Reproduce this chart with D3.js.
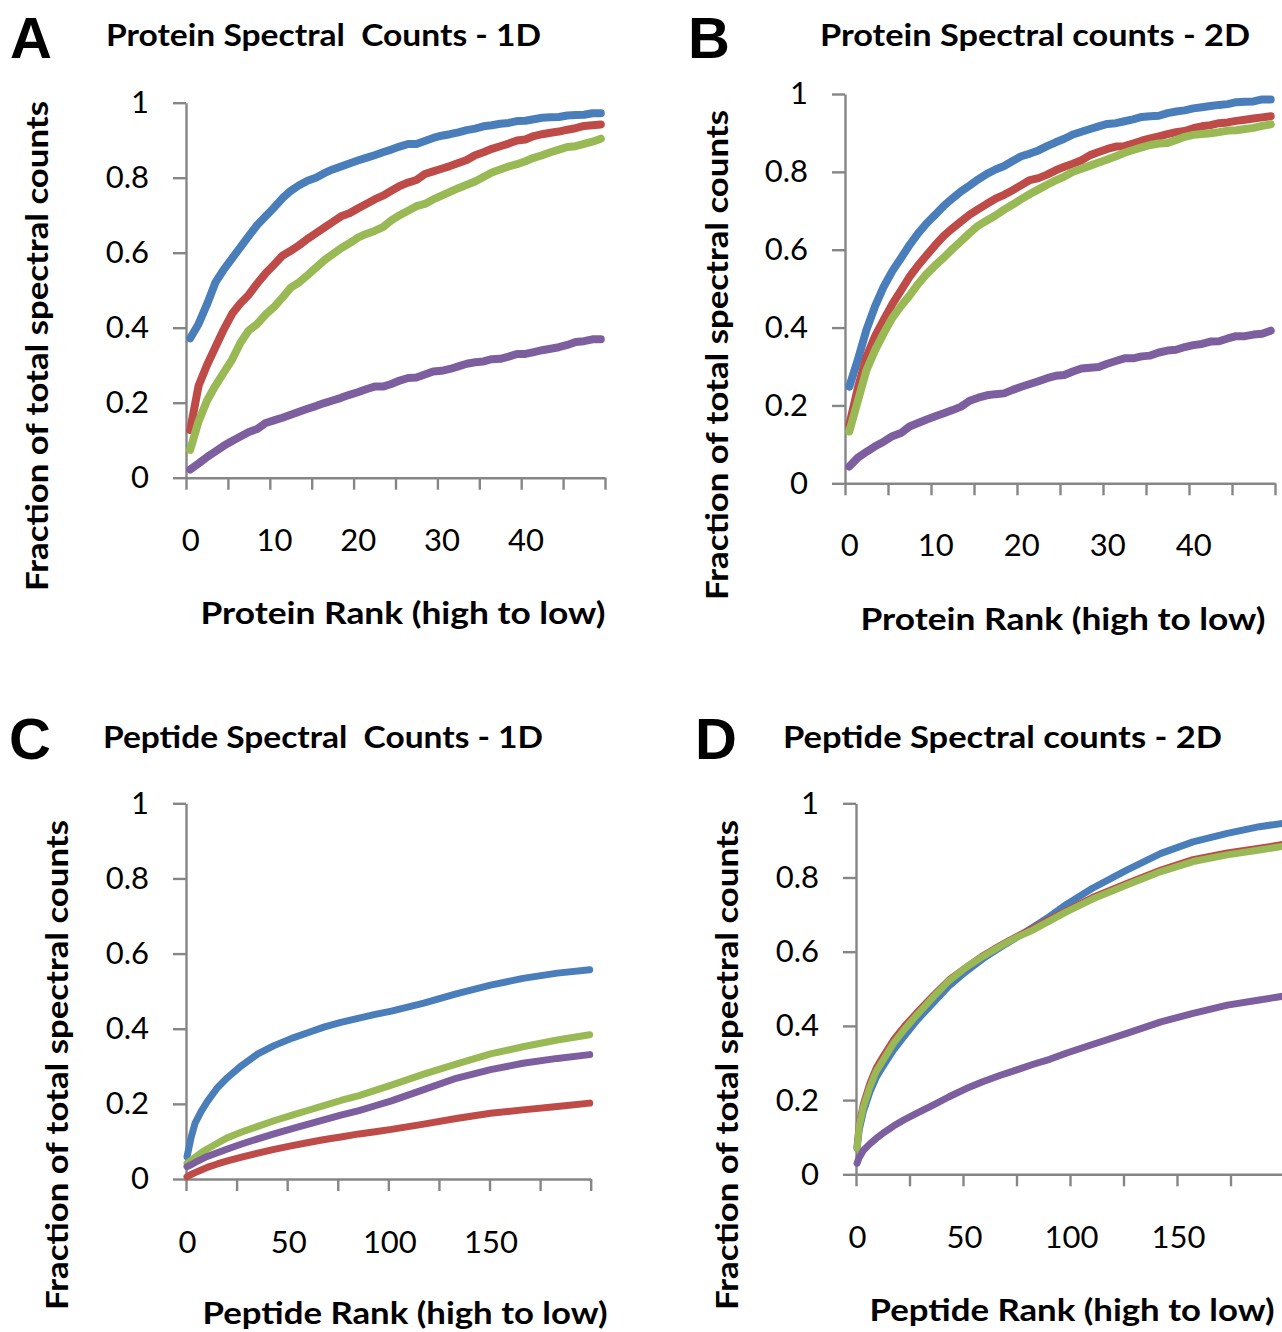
<!DOCTYPE html>
<html>
<head>
<meta charset="utf-8">
<script src="https://cdn.jsdelivr.net/npm/d3@7"></script>
<style>
  body { margin: 0; background: #fff; }
  text { font-family: Lato, "Open Sans", sans-serif; fill: #000; }
</style>
</head>
<body>
<div id="chart"></div>
<script>
// —————— DATA
// series order: blue, red, green, purple (Excel default palette)
var seriesColors = ["#4A7EBB", "#BE4B48", "#98B954", "#7D5FA0"];

// protein ranks 0..49 (one category per rank)
var proteinRanks = d3.range(50);
var proteinTickLabels = [0, 10, 20, 30, 40];

var protein1D_blue = [0.372,0.41,0.462,0.52,0.555,0.585,0.615,0.645,0.674,0.697,0.72,0.745,0.765,0.78,0.792,0.80,0.812,0.822,0.83,0.838,0.846,0.853,0.86,0.868,0.875,0.883,0.89,0.89,0.898,0.906,0.912,0.916,0.921,0.927,0.931,0.937,0.94,0.944,0.946,0.951,0.952,0.956,0.96,0.961,0.962,0.966,0.967,0.968,0.972,0.972];
var protein1D_red = [0.127,0.245,0.3,0.348,0.395,0.437,0.465,0.488,0.518,0.545,0.568,0.592,0.605,0.62,0.637,0.652,0.667,0.682,0.697,0.705,0.718,0.73,0.742,0.752,0.765,0.778,0.787,0.794,0.81,0.817,0.824,0.831,0.839,0.847,0.86,0.868,0.877,0.884,0.891,0.899,0.902,0.911,0.916,0.92,0.923,0.928,0.932,0.938,0.94,0.942];
var protein1D_green = [0.074,0.15,0.205,0.245,0.28,0.315,0.36,0.393,0.41,0.435,0.455,0.48,0.507,0.521,0.54,0.56,0.58,0.596,0.612,0.625,0.64,0.65,0.658,0.668,0.686,0.7,0.712,0.724,0.73,0.742,0.752,0.762,0.772,0.781,0.79,0.802,0.814,0.822,0.83,0.836,0.844,0.853,0.86,0.868,0.875,0.882,0.884,0.89,0.896,0.904];
var protein1D_purple = [0.022,0.038,0.055,0.07,0.085,0.098,0.11,0.122,0.13,0.146,0.153,0.16,0.168,0.176,0.184,0.191,0.199,0.206,0.213,0.221,0.228,0.236,0.243,0.243,0.25,0.259,0.266,0.267,0.275,0.283,0.285,0.29,0.297,0.304,0.308,0.31,0.316,0.317,0.323,0.33,0.33,0.335,0.34,0.344,0.348,0.354,0.362,0.364,0.369,0.369];

var protein2D_blue = [0.248,0.318,0.395,0.455,0.505,0.545,0.578,0.612,0.642,0.668,0.69,0.713,0.732,0.75,0.765,0.781,0.795,0.806,0.815,0.828,0.84,0.847,0.855,0.866,0.876,0.885,0.896,0.903,0.91,0.917,0.923,0.925,0.93,0.935,0.941,0.943,0.944,0.951,0.955,0.958,0.963,0.966,0.969,0.972,0.974,0.979,0.98,0.981,0.986,0.986];
var protein2D_red = [0.15,0.245,0.325,0.378,0.42,0.46,0.495,0.53,0.56,0.586,0.612,0.636,0.655,0.673,0.69,0.704,0.718,0.731,0.741,0.753,0.766,0.779,0.784,0.793,0.804,0.813,0.821,0.83,0.843,0.851,0.859,0.865,0.866,0.873,0.88,0.886,0.891,0.897,0.902,0.905,0.912,0.917,0.92,0.925,0.927,0.931,0.934,0.937,0.94,0.943];
var protein2D_green = [0.133,0.212,0.291,0.342,0.385,0.425,0.455,0.482,0.512,0.538,0.56,0.58,0.602,0.622,0.643,0.662,0.675,0.688,0.703,0.716,0.73,0.743,0.755,0.767,0.778,0.788,0.8,0.808,0.816,0.824,0.832,0.84,0.849,0.856,0.863,0.869,0.873,0.874,0.882,0.89,0.895,0.897,0.899,0.902,0.906,0.907,0.91,0.913,0.918,0.922];
var protein2D_purple = [0.043,0.066,0.081,0.095,0.107,0.121,0.129,0.146,0.155,0.164,0.172,0.18,0.188,0.197,0.212,0.22,0.226,0.229,0.231,0.24,0.248,0.255,0.262,0.27,0.276,0.278,0.287,0.295,0.297,0.299,0.307,0.314,0.321,0.321,0.326,0.328,0.336,0.341,0.343,0.35,0.355,0.358,0.364,0.365,0.372,0.378,0.378,0.382,0.384,0.392];

// peptide ranks (200 categories, values read at these ranks)
var peptideCount = 200;
var peptideTickLabels = [0, 50, 100, 150];

var peptide1D_ranks = [0,2,4,7,10,15,20,27,35,43,52,60,68,76,85,93,101,117,133,150,166,183,199];
var peptide1D_blue   = [0.059,0.11,0.149,0.18,0.206,0.243,0.27,0.302,0.333,0.355,0.375,0.39,0.405,0.417,0.428,0.438,0.447,0.468,0.493,0.516,0.534,0.548,0.557];
var peptide1D_red    = [0.006,0.012,0.017,0.024,0.031,0.04,0.048,0.058,0.069,0.079,0.089,0.097,0.105,0.112,0.12,0.126,0.132,0.146,0.161,0.175,0.184,0.193,0.202];
var peptide1D_green  = [0.042,0.05,0.058,0.07,0.08,0.095,0.11,0.125,0.14,0.155,0.17,0.183,0.196,0.209,0.222,0.236,0.25,0.279,0.306,0.333,0.352,0.37,0.384];
var peptide1D_purple = [0.033,0.038,0.044,0.052,0.06,0.07,0.08,0.093,0.107,0.12,0.134,0.146,0.158,0.17,0.182,0.195,0.208,0.238,0.268,0.291,0.308,0.321,0.331];

var peptide2D_ranks = [0,1,3,6,9,12,17,22,28,36,43,51,59,67,75,82,90,98,110,126,142,157,173,188,199];
var peptide2D_blue   = [0.07,0.12,0.17,0.222,0.262,0.29,0.335,0.372,0.415,0.465,0.508,0.547,0.582,0.612,0.64,0.665,0.695,0.728,0.771,0.82,0.865,0.896,0.919,0.937,0.946];
var peptide2D_red    = [0.075,0.135,0.19,0.245,0.287,0.316,0.362,0.398,0.436,0.484,0.524,0.558,0.59,0.617,0.642,0.662,0.687,0.711,0.746,0.784,0.82,0.848,0.866,0.879,0.889];
var peptide2D_green  = [0.07,0.13,0.182,0.236,0.278,0.306,0.353,0.39,0.43,0.48,0.522,0.558,0.588,0.615,0.64,0.658,0.683,0.708,0.742,0.78,0.816,0.843,0.861,0.874,0.884];
var peptide2D_purple = [0.03,0.045,0.065,0.082,0.097,0.11,0.13,0.147,0.165,0.188,0.209,0.231,0.25,0.267,0.282,0.296,0.31,0.327,0.35,0.38,0.411,0.434,0.456,0.47,0.48];

var yTickValues = [0, 0.2, 0.4, 0.6, 0.8, 1];

// —————— LAYOUT
var panels = [
  { letter: "A", title: "Protein Spectral  Counts - 1D", xTitle: "Protein Rank (high to low)",
    box: {left: 186, right: 605, top: 102.7, bottom: 477.7},
    n: 50, tickEvery: 5, labels: proteinTickLabels,
    ranks: proteinRanks, series: [protein1D_blue, protein1D_red, protein1D_green, protein1D_purple],
    letterX: 31, letterY: 37, titleX: 106, titleW: 435, titleY: 35,
    yTitleX: 37, yTitleY: 346, xTitleX: 403, xTitleY: 613, xLabelY: 540, width: 8 },
  { letter: "B", title: "Protein Spectral counts - 2D", xTitle: "Protein Rank (high to low)",
    box: {left: 845, right: 1275, top: 94, bottom: 483.3},
    n: 50, tickEvery: 5, labels: proteinTickLabels,
    ranks: proteinRanks, series: [protein2D_blue, protein2D_red, protein2D_green, protein2D_purple],
    letterX: 709, letterY: 37, titleX: 820, titleW: 430, titleY: 35,
    yTitleX: 717, yTitleY: 355, xTitleX: 1063, xTitleY: 619, xLabelY: 545, width: 8 },
  { letter: "C", title: "Peptide Spectral  Counts - 1D", xTitle: "Peptide Rank (high to low)",
    box: {left: 186, right: 590.7, top: 803.3, bottom: 1179},
    n: peptideCount, tickEvery: 25, labels: peptideTickLabels,
    ranks: peptide1D_ranks, series: [peptide1D_blue, peptide1D_red, peptide1D_green, peptide1D_purple],
    letterX: 30, letterY: 738, titleX: 103, titleW: 440, titleY: 737,
    yTitleX: 57, yTitleY: 1065, xTitleX: 405, xTitleY: 1313, xLabelY: 1242, width: 7 },
  { letter: "D", title: "Peptide Spectral counts - 2D", xTitle: "Peptide Rank (high to low)",
    box: {left: 856, right: 1284, top: 803.3, bottom: 1174.3},
    n: peptideCount, tickEvery: 25, labels: peptideTickLabels,
    ranks: peptide2D_ranks, series: [peptide2D_blue, peptide2D_red, peptide2D_green, peptide2D_purple],
    letterX: 716, letterY: 738, titleX: 783, titleW: 439, titleY: 737,
    yTitleX: 727, yTitleY: 1065, xTitleX: 1072, xTitleY: 1310, xLabelY: 1237, width: 7 }
];

var svg = d3.select("#chart").append("svg")
    .attr("width", 1282)
    .attr("height", 1332);

var axisColor = "#868686";

function drawPanel(p) {
  var g = svg.append("g");
  var b = p.box;

  // categories sit in the middle of equal slots, like an Excel category axis
  var x = d3.scaleLinear().domain([-0.5, p.n - 0.5]).range([b.left, b.right]);
  var y = d3.scaleLinear().domain([0, 1]).range([b.bottom, b.top]);

  // x axis: tick marks between category slots
  var boundaries = d3.range(-0.5, p.n, p.tickEvery);
  var xAxis = g.append("g")
      .attr("transform", "translate(0," + b.bottom + ")")
      .call(d3.axisBottom(x).tickValues(boundaries).tickSize(12).tickSizeOuter(0).tickFormat(""));
  xAxis.select(".domain").attr("stroke", axisColor).attr("stroke-width", 2.4);
  xAxis.selectAll(".tick line").attr("stroke", axisColor).attr("stroke-width", 2.4);

  // x labels, centred on their categories
  var xLab = g.append("g")
      .attr("transform", "translate(0," + p.xLabelY + ")")
      .call(d3.axisBottom(x).tickValues(p.labels).tickSize(0).tickPadding(0));
  xLab.select(".domain").remove();
  xLab.selectAll("text").attr("dy", "0.35em").style("font-size", "31px").attr("fill", "#000");

  // y axis
  var yAxis = g.append("g")
      .attr("transform", "translate(" + b.left + ",0)")
      .call(d3.axisLeft(y).tickValues(yTickValues).tickSize(13).tickSizeOuter(0).tickPadding(24)
        .tickFormat(function(d) { return (d === 0 || d === 1) ? d : d.toFixed(1); }));
  yAxis.select(".domain").attr("stroke", axisColor).attr("stroke-width", 2.4);
  yAxis.selectAll(".tick line").attr("stroke", axisColor).attr("stroke-width", 2.4);
  yAxis.selectAll("text").style("font-size", "31px").attr("fill", "#000");

  // lines
  var line = d3.line()
      .x(function(d) { return x(d[0]); })
      .y(function(d) { return y(d[1]); });

  p.series.forEach(function(vals, k) {
    var pts = vals.map(function(v, i) { return [p.ranks[i], v]; });
    g.append("path")
        .datum(pts)
        .attr("d", line)
        .attr("fill", "none")
        .attr("stroke", seriesColors[k])
        .attr("stroke-width", p.width)
        .attr("stroke-linecap", "round")
        .attr("stroke-linejoin", "round");
  });

  // panel letter
  g.append("text")
      .attr("x", p.letterX).attr("y", p.letterY)
      .attr("text-anchor", "middle").attr("dy", "0.36em")
      .style("font-family", "'Liberation Sans', Arial, sans-serif")
      .style("font-weight", "bold").style("font-size", "58px")
      .text(p.letter);

  // title
  g.append("text")
      .attr("x", p.titleX).attr("y", p.titleY).attr("dy", "0.35em")
      .attr("textLength", p.titleW).attr("lengthAdjust", "spacingAndGlyphs")
      .style("white-space", "pre")
      .style("font-weight", "bold").style("font-size", "31px")
      .text(p.title);

  // axis titles
  g.append("text")
      .attr("transform", "translate(" + p.yTitleX + "," + p.yTitleY + ") rotate(-90)")
      .attr("text-anchor", "middle").attr("dy", "0.35em")
      .attr("textLength", 490).attr("lengthAdjust", "spacingAndGlyphs")
      .style("font-weight", "bold").style("font-size", "31px")
      .text("Fraction of total spectral counts");

  g.append("text")
      .attr("x", p.xTitleX).attr("y", p.xTitleY)
      .attr("text-anchor", "middle").attr("dy", "0.35em")
      .attr("textLength", 405).attr("lengthAdjust", "spacingAndGlyphs")
      .style("font-weight", "bold").style("font-size", "31px")
      .text(p.xTitle);
}

panels.forEach(drawPanel);
</script>
</body>
</html>
